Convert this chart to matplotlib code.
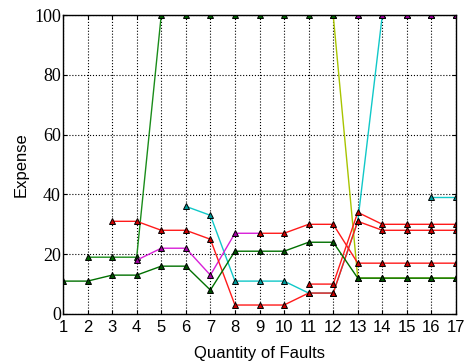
import numpy as np
import matplotlib
matplotlib.use("Agg")
import matplotlib.pyplot as plt

nan = np.nan

faults = np.arange(1, 18)

# expense per number of faults, one list per strategy (nan = not run)
cyan_a = [nan, nan, nan, nan, nan, 36, 33, 11, 11, 11, 7, 7, 31, 100, 100, 100, 100]
cyan_b = [nan, nan, nan, nan, nan, nan, nan, nan, nan, nan, nan, nan, nan, nan, nan, 39, 39]
olive = [nan, nan, nan, nan, nan, nan, nan, nan, nan, nan, nan, 100, 12, 12, 12, 12, 12]
green_hi = [nan, 19, 19, 19, 100, 100, 100, 100, 100, 100, 100, 100, 100, 100, 100, 100, 100]
magenta = [nan, nan, nan, 18, 22, 22, 13, 27, 27, nan, nan, nan, 100, 100, 100, 100, 100]
red_a = [nan, nan, 31, 31, 28, 28, 25, 3, 3, 3, 7, 7, 31, 28, 28, 28, 28]
red_c = [nan, nan, nan, nan, nan, nan, nan, nan, nan, nan, 10, 10, 34, 30, 30, 30, 30]
red_b = [nan, nan, nan, nan, nan, nan, nan, nan, 27, 27, 30, 30, 17, 17, 17, 17, 17]
green_lo = [11, 11, 13, 13, 16, 16, 8, 21, 21, 21, 24, 24, 12, 12, 12, 12, 12]

series = [
    (cyan_a, "#10c8c8", "#009a9a"),
    (cyan_b, "#10c8c8", "#009a9a"),
    (olive, "#a8c400", "#7a9000"),
    (green_hi, "#1a8c1a", "#006400"),
    (magenta, "#d820d8", "#a000a0"),
    (red_a, "#ff1a1a", "#c80000"),
    (red_c, "#ff1a1a", "#c80000"),
    (red_b, "#ff1a1a", "#c80000"),
    (green_lo, "#007000", "#005000"),
]

fig = plt.figure(figsize=(4.68, 3.61), dpi=100)
ax = fig.add_axes([0.1346, 0.1302, 0.8398, 0.8282])

for vals, lc, mc in series:
    ax.plot(faults, vals, color=lc, lw=1.0, marker="^", ms=4.8,
            mfc=mc, mec="black", mew=0.7)

ax.set_xlim(1, 17)
ax.set_ylim(0, 100)
ax.set_xticks(faults)
ax.set_yticks(np.arange(0, 101, 20))
ax.grid(True, linestyle=":", color="black", linewidth=0.8)
ax.tick_params(direction="in", top=True, right=True, length=3, width=0.8)
ax.tick_params(axis="x", labelsize=12, pad=4)
ax.tick_params(axis="y", pad=1.5)
for lab in ax.get_xticklabels():
    lab.set_family("Liberation Sans")
for lab in ax.get_yticklabels():
    lab.set_family("Liberation Serif")
    lab.set_fontsize(13)
for sp in ax.spines.values():
    sp.set_linewidth(1.0)

ax.set_xlabel("Quantity of Faults", family="Liberation Sans", fontsize=12, labelpad=8)
ax.set_ylabel("Expense", family="Liberation Sans", fontsize=12, labelpad=4)

fig.savefig("out.png", dpi=100)
